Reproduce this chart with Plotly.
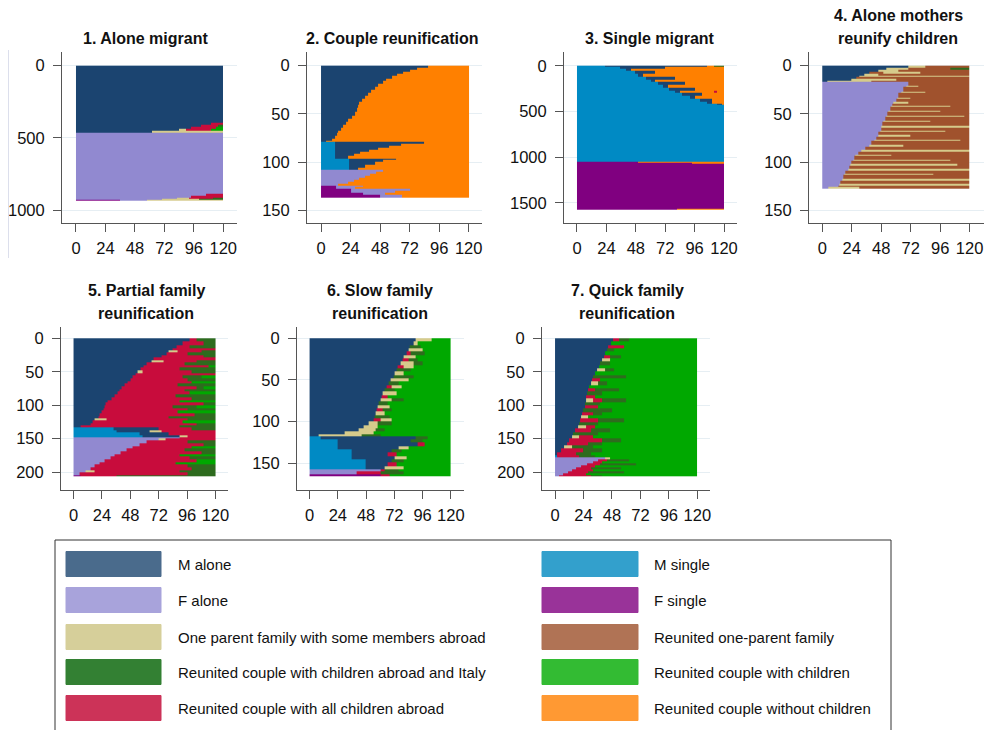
import plotly.graph_objects as go

# ---------------- states ----------------
STATE_CODES = ["MA", "FA", "OP", "RCA", "RAA", "MS", "FS", "R1", "RC", "RN"]
STATE_LABELS = [
    "M alone", "F alone", "One parent family with some members abroad",
    "Reunited couple with children abroad and Italy",
    "Reunited couple with all children abroad",
    "M single", "F single", "Reunited one-parent family",
    "Reunited couple with children", "Reunited couple without children",
]
CELL_COLORS = ["#1B4470", "#9189D0", "#D6CB8B", "#2E6B1E", "#C80C3C",
               "#008AC4", "#800080", "#A0522D", "#00A800", "#FF8000"]
LEGEND_COLORS = ["#4A6B8C", "#A8A3DB", "#D6CF9A", "#338033", "#CC3358",
                 "#33A0CC", "#993399", "#B07355", "#33BB33", "#FF9933"]

PANEL_TITLES = ["1. Alone migrant", "2. Couple reunification", "3. Single migrant",
                "4. Alone mothers<br>reunify children", "5. Partial family<br>reunification",
                "6. Slow family<br>reunification", "7. Quick family<br>reunification"]
X_TICKS = [0, 24, 48, 72, 96, 120]
Y_TICKS = [[0, 500, 1000], [0, 50, 100, 150], [0, 500, 1000, 1500], [0, 50, 100, 150],
           [0, 50, 100, 150, 200], [0, 50, 100, 150], [0, 50, 100, 150, 200]]

# ---------------- sequences: (row_from, row_to, [(state, until_month), ...]) ----------------
P1 = [
    (0, 395, [("MA", 120)]),
    (395, 410, [("MA", 110), ("RAA", 120)]),
    (410, 425, [("MA", 102), ("RAA", 116), ("RCA", 120)]),
    (425, 440, [("MA", 94), ("RAA", 114), ("RC", 120)]),
    (440, 452, [("MA", 84), ("OP", 90), ("RAA", 110), ("RC", 120)]),
    (452, 462, [("MA", 62), ("OP", 120)]),
    (462, 885, [("FA", 120)]),
    (885, 900, [("FA", 106), ("RAA", 120)]),
    (900, 912, [("FA", 94), ("RAA", 120)]),
    (912, 922, [("FA", 82), ("OP", 92), ("RAA", 112), ("RCA", 120)]),
    (922, 930, [("FA", 70), ("OP", 100), ("RCA", 120)]),
    (930, 937, [("FS", 36), ("FA", 58), ("OP", 120)]),
]

P2 = [
    (0, 2, [("MA", 87), ("RN", 120)]), (2, 4, [("MA", 78), ("RN", 120)]),
    (4, 6, [("MA", 72), ("RN", 120)]), (6, 8, [("MA", 67), ("RN", 120)]),
    (8, 10, [("MA", 62), ("RN", 120)]), (10, 13, [("MA", 58), ("RN", 120)]),
    (13, 16, [("MA", 53), ("RN", 120)]), (16, 19, [("MA", 50), ("RN", 120)]),
    (19, 22, [("MA", 46), ("RN", 120)]), (22, 25, [("MA", 44), ("RN", 120)]),
    (25, 28, [("MA", 41), ("RN", 120)]), (28, 31, [("MA", 38), ("RN", 120)]),
    (31, 34, [("MA", 36), ("RN", 120)]), (34, 37, [("MA", 33), ("RN", 120)]),
    (37, 40, [("MA", 31), ("RN", 120)]), (40, 44, [("MA", 30), ("RN", 120)]),
    (44, 48, [("MA", 29), ("RN", 120)]), (48, 52, [("MA", 28), ("RN", 120)]),
    (52, 55, [("MA", 25), ("RN", 120)]), (55, 58, [("MA", 22), ("RN", 120)]),
    (58, 61, [("MA", 20), ("RN", 120)]), (61, 64, [("MA", 18), ("RN", 120)]),
    (64, 67, [("MA", 16), ("RN", 120)]), (67, 70, [("MA", 14), ("RN", 120)]),
    (70, 73, [("MA", 13), ("RN", 120)]), (73, 76, [("MA", 11), ("RN", 120)]),
    (76, 78, [("MA", 9), ("RN", 120)]), (78, 79, [("MA", 4), ("RN", 120)]),
    (79, 81, [("MS", 11), ("MA", 84), ("RN", 120)]),
    (81, 83, [("MS", 11), ("MA", 65), ("RN", 120)]),
    (83, 85, [("MS", 11), ("MA", 55), ("RN", 120)]),
    (85, 87, [("MS", 11), ("MA", 46), ("RN", 120)]),
    (87, 89, [("MS", 11), ("MA", 39), ("RN", 120)]),
    (89, 91, [("MS", 11), ("MA", 32), ("RN", 120)]),
    (91, 93, [("MS", 11), ("MA", 27), ("RN", 120)]),
    (93, 96, [("MS", 11), ("MA", 22), ("RN", 120)]),
    (96, 98, [("MS", 23), ("MA", 61), ("RN", 120)]),
    (98, 100, [("MS", 23), ("MA", 50), ("RN", 120)]),
    (100, 103, [("MS", 23), ("MA", 44), ("RN", 120)]),
    (103, 106, [("MS", 23), ("MA", 36), ("RN", 120)]),
    (106, 108, [("MS", 23), ("MA", 30), ("RN", 120)]),
    (108, 110, [("FA", 50), ("RN", 120)]), (110, 112, [("FA", 45), ("RN", 120)]),
    (112, 114, [("FA", 40), ("RN", 120)]), (114, 116, [("FA", 36), ("RN", 120)]),
    (116, 118, [("FA", 31), ("RN", 120)]), (118, 120, [("FA", 27), ("RN", 120)]),
    (120, 122, [("FA", 22), ("RN", 120)]), (122, 124, [("FA", 14), ("RN", 120)]),
    (124, 126, [("FS", 12), ("FA", 34), ("RN", 120)]),
    (126, 128, [("FS", 12), ("FA", 28), ("RN", 120)]),
    (128, 130, [("FS", 24), ("FA", 72), ("RN", 120)]),
    (130, 132, [("FS", 24), ("FA", 60), ("RN", 120)]),
    (132, 134, [("FS", 34), ("FA", 52), ("RN", 120)]),
    (134, 137, [("FS", 48), ("FA", 66), ("RN", 120)]),
]

P3 = [
    (0, 11, [("MS", 23), ("MA", 106), ("RN", 112), ("RCA", 120)]),
    (11, 36, [("MS", 35), ("MA", 72), ("RN", 120)]),
    (36, 60, [("MS", 40), ("MA", 44), ("RN", 120)]),
    (60, 90, [("MS", 47), ("MA", 64), ("RN", 120)]),
    (90, 120, [("MS", 50), ("MA", 54), ("RN", 120)]),
    (120, 150, [("MS", 56), ("MA", 80), ("RN", 120)]),
    (150, 180, [("MS", 60), ("MA", 64), ("RN", 120)]),
    (180, 210, [("MS", 66), ("MA", 88), ("RN", 120)]),
    (210, 240, [("MS", 70), ("MA", 74), ("RN", 120)]),
    (240, 270, [("MS", 75), ("MA", 96), ("RN", 120)]),
    (270, 300, [("MS", 80), ("MA", 84), ("RN", 112), ("RAA", 114), ("RN", 120)]),
    (300, 330, [("MS", 86), ("MA", 102), ("RN", 120)]),
    (330, 360, [("MS", 92), ("MA", 96), ("RN", 120)]),
    (360, 390, [("MS", 100), ("MA", 110), ("RN", 120)]),
    (390, 410, [("MS", 106), ("MA", 110), ("RN", 120)]),
    (410, 430, [("MS", 114), ("MA", 118), ("RN", 120)]),
    (430, 1045, [("MS", 120)]),
    (1045, 1058, [("FS", 50), ("RN", 120)]),
    (1058, 1072, [("FS", 94), ("RN", 120)]),
    (1072, 1560, [("FS", 120)]),
    (1560, 1573, [("FS", 82), ("RN", 120)]),
]

P4 = [
    (0, 2, [("MA", 70), ("OP", 84), ("R1", 120)]),
    (2, 4, [("MA", 52), ("OP", 70), ("R1", 104), ("RCA", 120)]),
    (4, 6, [("MA", 46), ("OP", 62), ("R1", 120)]),
    (6, 8, [("MA", 38), ("R1", 50), ("OP", 80), ("R1", 120)]),
    (8, 10, [("MA", 34), ("OP", 46), ("R1", 120)]),
    (10, 11, [("MA", 30), ("OP", 120)]),
    (11, 13, [("MA", 28), ("R1", 120)]),
    (13, 14, [("MA", 26), ("R1", 40), ("OP", 120)]),
    (14, 16, [("MA", 24), ("OP", 60), ("R1", 120)]),
    (16, 17, [("MA", 4), ("OP", 40), ("R1", 120)]),
    (17, 21, [("FA", 70), ("R1", 120)]),
    (21, 22, [("FA", 68), ("OP", 78), ("R1", 120)]),
    (22, 27, [("FA", 66), ("R1", 120)]),
    (27, 28, [("FA", 64), ("OP", 84), ("R1", 120)]),
    (28, 33, [("FA", 62), ("R1", 120)]),
    (33, 34, [("FA", 61), ("OP", 72), ("R1", 120)]),
    (34, 37, [("FA", 60), ("R1", 120)]),
    (37, 39, [("FA", 58), ("OP", 70), ("R1", 120)]),
    (39, 42, [("FA", 57), ("R1", 120)]),
    (42, 43, [("FA", 56), ("OP", 104), ("R1", 120)]),
    (43, 47, [("FA", 55), ("R1", 120)]),
    (47, 48, [("FA", 54), ("OP", 96), ("R1", 120)]),
    (48, 52, [("FA", 53), ("R1", 120)]),
    (52, 53, [("FA", 52), ("OP", 116), ("R1", 120)]),
    (53, 57, [("FA", 51), ("R1", 120)]),
    (57, 58, [("FA", 50), ("OP", 88), ("R1", 120)]),
    (58, 62, [("FA", 49), ("R1", 120)]),
    (62, 64, [("FA", 48), ("OP", 120)]),
    (64, 67, [("FA", 48), ("R1", 120)]),
    (67, 68, [("FA", 47), ("OP", 100), ("R1", 120)]),
    (68, 72, [("FA", 46), ("R1", 120)]),
    (72, 74, [("FA", 46), ("OP", 72), ("R1", 120)]),
    (74, 77, [("FA", 44), ("R1", 120)]),
    (77, 78, [("FA", 42), ("OP", 112), ("R1", 120)]),
    (78, 82, [("FA", 40), ("R1", 120)]),
    (82, 84, [("FA", 38), ("OP", 66), ("R1", 120)]),
    (84, 87, [("FA", 35), ("R1", 120)]),
    (87, 89, [("FA", 32), ("OP", 120)]),
    (89, 92, [("FA", 29), ("R1", 120)]),
    (92, 93, [("FA", 27), ("OP", 56), ("R1", 120)]),
    (93, 97, [("FA", 26), ("R1", 120)]),
    (97, 99, [("FA", 25), ("OP", 104), ("R1", 120)]),
    (99, 102, [("FA", 24), ("R1", 120)]),
    (102, 104, [("FA", 23), ("OP", 110), ("R1", 120)]),
    (104, 107, [("FA", 22), ("R1", 120)]),
    (107, 109, [("FA", 21), ("OP", 120)]),
    (109, 112, [("FA", 19), ("R1", 120)]),
    (112, 113, [("FA", 18), ("OP", 90), ("R1", 120)]),
    (113, 117, [("FA", 17), ("R1", 120)]),
    (117, 119, [("FA", 16), ("OP", 120)]),
    (119, 122, [("FA", 15), ("R1", 120)]),
    (122, 124, [("FA", 14), ("OP", 120)]),
    (124, 126, [("FA", 13), ("R1", 120)]),
    (126, 128, [("FA", 5), ("OP", 30), ("R1", 120)]),
]

P5 = [
    (0, 5, [("MA", 98), ("RAA", 104), ("RCA", 120)]),
    (5, 10, [("MA", 92), ("RAA", 110), ("RCA", 120)]),
    (10, 15, [("MA", 87), ("RAA", 98), ("RCA", 120)]),
    (15, 18, [("MA", 84), ("RAA", 120)]),
    (18, 21, [("MA", 80), ("OP", 88), ("RAA", 108), ("RCA", 120)]),
    (21, 25, [("MA", 79), ("RAA", 96), ("RCA", 120)]),
    (25, 29, [("MA", 74), ("RAA", 110), ("RCA", 120)]),
    (29, 33, [("MA", 68), ("RAA", 120)]),
    (33, 36, [("MA", 66), ("OP", 76), ("RAA", 104), ("RCA", 120)]),
    (36, 40, [("MA", 62), ("RAA", 94), ("RCA", 120)]),
    (40, 44, [("MA", 59), ("RAA", 114), ("RC", 120)]),
    (44, 48, [("MA", 57), ("RAA", 90), ("RCA", 120)]),
    (48, 52, [("MA", 54), ("OP", 58), ("RAA", 100), ("RCA", 120)]),
    (52, 56, [("MA", 52), ("RAA", 120)]),
    (56, 60, [("MA", 50), ("RAA", 92), ("RCA", 108), ("RC", 120)]),
    (60, 64, [("MA", 48), ("RAA", 96), ("RCA", 120)]),
    (64, 68, [("MA", 46), ("RAA", 100), ("RC", 120)]),
    (68, 72, [("MA", 43), ("RAA", 88), ("RCA", 120)]),
    (72, 76, [("MA", 41), ("RAA", 104), ("RCA", 110), ("RC", 120)]),
    (76, 80, [("MA", 39), ("RAA", 94), ("RCA", 120)]),
    (80, 84, [("MA", 37), ("RAA", 98), ("RC", 120)]),
    (84, 88, [("MA", 35), ("RAA", 86), ("RCA", 120)]),
    (88, 92, [("MA", 32), ("RAA", 100), ("RCA", 120)]),
    (92, 96, [("MA", 29), ("RAA", 90), ("RC", 120)]),
    (96, 100, [("MA", 27), ("RAA", 110), ("RCA", 120)]),
    (100, 104, [("MA", 26), ("RAA", 84), ("RCA", 104), ("RC", 120)]),
    (104, 108, [("MA", 25), ("RAA", 96), ("RCA", 120)]),
    (108, 112, [("MA", 24), ("RAA", 88), ("RC", 120)]),
    (112, 116, [("MA", 22), ("RAA", 102), ("RCA", 120)]),
    (116, 120, [("MA", 21), ("RAA", 80), ("RCA", 120)]),
    (120, 123, [("MA", 18), ("OP", 28), ("RAA", 96), ("RCA", 120)]),
    (123, 127, [("MA", 16), ("RAA", 92), ("RC", 120)]),
    (127, 130, [("MA", 14), ("RAA", 104), ("RCA", 120)]),
    (130, 133, [("MA", 6), ("RAA", 90), ("RCA", 120)]),
    (133, 137, [("MS", 34), ("MA", 72), ("RAA", 100), ("RCA", 120)]),
    (137, 141, [("MS", 36), ("MA", 64), ("OP", 74), ("RAA", 120)]),
    (141, 145, [("MS", 56), ("MA", 80), ("RAA", 120)]),
    (145, 148, [("MS", 58), ("MA", 90), ("OP", 96), ("RAA", 120)]),
    (148, 150, [("FA", 90), ("RAA", 120)]),
    (150, 153, [("FA", 72), ("OP", 78), ("RAA", 120)]),
    (153, 157, [("FA", 62), ("RAA", 96), ("RCA", 120)]),
    (157, 161, [("FA", 56), ("RAA", 110), ("RCA", 120)]),
    (161, 165, [("FA", 50), ("RAA", 100), ("RC", 120)]),
    (165, 169, [("FA", 45), ("RAA", 94), ("RCA", 120)]),
    (169, 173, [("FA", 40), ("RAA", 108), ("RCA", 120)]),
    (173, 177, [("FA", 35), ("RAA", 90), ("RC", 120)]),
    (177, 181, [("FA", 31), ("RAA", 98), ("RCA", 120)]),
    (181, 185, [("FA", 26), ("RAA", 104), ("RC", 120)]),
    (185, 189, [("FA", 22), ("RAA", 86), ("RC", 120)]),
    (189, 193, [("FA", 18), ("RAA", 96), ("RCA", 120)]),
    (193, 197, [("FA", 14), ("RAA", 100), ("RCA", 120)]),
    (197, 201, [("FA", 10), ("OP", 18), ("RAA", 90), ("RCA", 120)]),
    (201, 205, [("FA", 5), ("RAA", 96), ("RCA", 120)]),
    (205, 207, [("FS", 6), ("RAA", 36), ("RCA", 120)]),
]

P6 = [
    (0, 4, [("MA", 90), ("OP", 104), ("RC", 120)]),
    (4, 8, [("MA", 88), ("OP", 92), ("RC", 120)]),
    (8, 12, [("MA", 85), ("RCA", 94), ("RC", 120)]),
    (12, 16, [("MA", 84), ("OP", 96), ("RC", 120)]),
    (16, 20, [("MA", 82), ("RAA", 86), ("RCA", 98), ("RC", 120)]),
    (20, 24, [("MA", 80), ("OP", 90), ("RC", 120)]),
    (24, 28, [("MA", 79), ("RAA", 84), ("RCA", 92), ("RC", 120)]),
    (28, 32, [("MA", 77), ("OP", 88), ("RCA", 96), ("RC", 120)]),
    (32, 36, [("MA", 75), ("RAA", 80), ("OP", 88), ("RC", 120)]),
    (36, 40, [("MA", 74), ("RCA", 86), ("RC", 120)]),
    (40, 44, [("MA", 72), ("OP", 80), ("RC", 120)]),
    (44, 48, [("MA", 71), ("RCA", 88), ("RC", 120)]),
    (48, 52, [("MA", 69), ("OP", 84), ("RC", 120)]),
    (52, 56, [("MA", 67), ("RCA", 76), ("RC", 120)]),
    (56, 60, [("MA", 65), ("RAA", 70), ("OP", 78), ("RC", 120)]),
    (60, 64, [("MA", 64), ("RCA", 72), ("RC", 120)]),
    (64, 68, [("MA", 62), ("OP", 74), ("RC", 120)]),
    (68, 72, [("MA", 61), ("RAA", 66), ("RC", 120)]),
    (72, 76, [("MA", 60), ("OP", 70), ("RCA", 80), ("RC", 120)]),
    (76, 80, [("MA", 59), ("RCA", 66), ("RC", 120)]),
    (80, 84, [("MA", 58), ("OP", 68), ("RC", 120)]),
    (84, 88, [("MA", 57), ("RAA", 62), ("RCA", 70), ("RC", 120)]),
    (88, 92, [("MA", 56), ("OP", 64), ("RC", 120)]),
    (92, 96, [("MA", 55), ("RCA", 68), ("RC", 120)]),
    (96, 100, [("MA", 54), ("RAA", 60), ("OP", 70), ("RC", 120)]),
    (100, 104, [("MA", 50), ("OP", 58), ("RCA", 70), ("RC", 120)]),
    (104, 108, [("MA", 46), ("OP", 58), ("RC", 120)]),
    (108, 112, [("MA", 42), ("OP", 56), ("RCA", 64), ("RC", 120)]),
    (112, 115, [("MA", 30), ("OP", 54), ("RC", 120)]),
    (115, 117, [("MA", 8), ("OP", 44), ("RCA", 60), ("RC", 120)]),
    (117, 121, [("MS", 9), ("MA", 90), ("RCA", 100), ("RC", 120)]),
    (121, 125, [("MS", 24), ("MA", 86), ("RCA", 96), ("RC", 120)]),
    (125, 129, [("MS", 24), ("MA", 92), ("RAA", 98), ("RC", 120)]),
    (129, 133, [("MS", 24), ("MA", 76), ("OP", 84), ("RC", 120)]),
    (133, 137, [("MS", 36), ("MA", 70), ("RCA", 78), ("RC", 120)]),
    (137, 141, [("MS", 36), ("MA", 66), ("RAA", 74), ("RC", 120)]),
    (141, 145, [("MS", 36), ("MA", 72), ("OP", 82), ("RC", 120)]),
    (145, 149, [("MS", 48), ("MA", 70), ("RCA", 80), ("RC", 120)]),
    (149, 153, [("MS", 48), ("MA", 66), ("RAA", 74), ("RC", 120)]),
    (153, 157, [("MS", 48), ("MA", 64), ("OP", 80), ("RC", 120)]),
    (157, 160, [("FA", 60), ("RAA", 64), ("RCA", 76), ("RC", 120)]),
    (160, 163, [("FA", 40), ("RAA", 60), ("RCA", 80), ("RC", 120)]),
    (163, 166, [("FS", 60), ("RAA", 68), ("RC", 120)]),
]

P7 = [
    (0, 5, [("MA", 49), ("RAA", 54), ("RCA", 62), ("RC", 120)]),
    (5, 10, [("MA", 47), ("RC", 120)]),
    (10, 15, [("MA", 45), ("RAA", 58), ("RC", 120)]),
    (15, 20, [("MA", 44), ("RCA", 50), ("RC", 120)]),
    (20, 25, [("MA", 42), ("RC", 120)]),
    (25, 30, [("MA", 41), ("RAA", 46), ("RCA", 56), ("RC", 120)]),
    (30, 35, [("MA", 40), ("OP", 46), ("RC", 120)]),
    (35, 40, [("MA", 38), ("RCA", 46), ("RC", 120)]),
    (40, 45, [("MA", 37), ("RC", 120)]),
    (45, 50, [("MA", 35), ("OP", 42), ("RCA", 50), ("RC", 120)]),
    (50, 55, [("MA", 34), ("RC", 120)]),
    (55, 60, [("MA", 32), ("RCA", 60), ("RC", 120)]),
    (60, 65, [("MA", 31), ("RAA", 38), ("RC", 120)]),
    (65, 70, [("MA", 30), ("OP", 36), ("RCA", 44), ("RC", 120)]),
    (70, 75, [("MA", 29), ("RC", 120)]),
    (75, 80, [("MA", 28), ("RAA", 34), ("RCA", 54), ("RC", 120)]),
    (80, 85, [("MA", 27), ("RCA", 40), ("RC", 120)]),
    (85, 90, [("MA", 26), ("RAA", 34), ("RC", 120)]),
    (90, 95, [("MA", 26), ("OP", 32), ("RAA", 40), ("RCA", 60), ("RC", 120)]),
    (95, 100, [("MA", 25), ("RCA", 38), ("RC", 120)]),
    (100, 105, [("MA", 25), ("RAA", 36), ("RC", 120)]),
    (105, 110, [("MA", 24), ("RCA", 48), ("RC", 120)]),
    (110, 115, [("MA", 23), ("RAA", 32), ("RCA", 40), ("RC", 120)]),
    (115, 120, [("MA", 22), ("OP", 28), ("RC", 120)]),
    (120, 125, [("MA", 21), ("RAA", 36), ("RCA", 58), ("RC", 120)]),
    (125, 130, [("MA", 20), ("RCA", 36), ("RC", 120)]),
    (130, 135, [("MA", 19), ("OP", 26), ("RAA", 34), ("RC", 120)]),
    (135, 140, [("MA", 17), ("RAA", 30), ("RCA", 46), ("RC", 120)]),
    (140, 145, [("MA", 15), ("RCA", 36), ("RC", 120)]),
    (145, 150, [("MA", 14), ("OP", 20), ("RAA", 32), ("RC", 120)]),
    (150, 155, [("MA", 12), ("RAA", 40), ("RCA", 56), ("RC", 120)]),
    (155, 160, [("MA", 10), ("RAA", 28), ("RCA", 40), ("RC", 120)]),
    (160, 165, [("MA", 8), ("OP", 14), ("RCA", 32), ("RC", 120)]),
    (165, 170, [("MA", 5), ("RAA", 24), ("RCA", 40), ("RC", 120)]),
    (170, 175, [("MA", 2), ("RAA", 18), ("RCA", 30), ("RC", 120)]),
    (175, 178, [("MS", 2), ("RAA", 20), ("RCA", 34), ("RC", 120)]),
    (178, 181, [("FA", 42), ("OP", 46), ("RC", 120)]),
    (181, 184, [("FA", 36), ("RAA", 44), ("RCA", 62), ("RC", 120)]),
    (184, 187, [("FA", 32), ("RAA", 40), ("RC", 120)]),
    (187, 190, [("FA", 27), ("RAA", 38), ("RCA", 68), ("RC", 120)]),
    (190, 193, [("FA", 22), ("RAA", 34), ("RC", 120)]),
    (193, 196, [("FA", 18), ("RAA", 30), ("RCA", 56), ("RC", 120)]),
    (196, 199, [("FA", 14), ("RAA", 32), ("RC", 120)]),
    (199, 202, [("FA", 11), ("RAA", 28), ("RCA", 58), ("RC", 120)]),
    (202, 205, [("FA", 7), ("RAA", 26), ("RC", 120)]),
    (205, 207, [("FA", 3), ("RAA", 30), ("RCA", 40), ("RC", 120)]),
]

PANELS = [P1, P2, P3, P4, P5, P6, P7]

# ---------------- geometry (pixels on the 994x730 page) ----------------
W, H = 994, 730
OFF = 8                     # default page margin of the html body
FW, FH = W - OFF, H - OFF   # figure size so that the page fits the window


def X(p):
    return (p - OFF) / FW


def Y(p):
    return 1 - (p - OFF) / FH


# (axis left, axis right, axis top, axis bottom, x range, y range [bottom, top])
GEOM = [
    (62, 237, 52, 223, [-11.4, 131.2], [1090, -95]),
    (307, 482, 52, 223, [-11.4, 130.8], [163.2, -14.2]),
    (564, 737, 52, 223, [-10.6, 130.6], [1719, -150]),
    (809, 984, 52, 223, [-10.8, 131.7], [163.2, -14.2]),
    (61, 228, 327, 490, [-10.6, 130.6], [226.9, -16.9]),
    (297, 464, 327, 490, [-10.7, 131.2], [182, -13.5]),
    (542, 710, 327, 490, [-11.0, 130.7], [226.9, -16.9]),
]
TITLE_POS = [(145, 38), (392, 38), (650, 38), (898, 15.7), (146, 290.7), (380, 290.7), (627, 290.7)]
TITLE_LINE_GAP = 22.6

n = len(STATE_CODES)
colorscale = []
for i, c in enumerate(CELL_COLORS):
    colorscale.append([i / n, c])
    colorscale.append([(i + 1) / n, c])

fig = go.Figure()
FONT = "Liberation Sans, Arial, sans-serif"
layout = dict(width=FW, height=FH, margin=dict(l=0, r=0, t=0, b=0),
              paper_bgcolor="white", plot_bgcolor="white", showlegend=False,
              font=dict(family=FONT, color="#111111"))

for k, bands in enumerate(PANELS):
    edges = [bands[0][0]] + [b[1] for b in bands]
    z = []
    for r0, r1, seq in bands:
        row, start = [], 0
        for st, end in seq:
            row += [STATE_CODES.index(st)] * (end - start)
            start = end
        z.append(row)
    sfx = "" if k == 0 else str(k + 1)
    fig.add_trace(go.Heatmap(
        x=list(range(121)), y=edges, z=z, zmin=-0.5, zmax=n - 0.5,
        colorscale=colorscale, showscale=False, hoverinfo="skip",
        xaxis="x" + sfx, yaxis="y" + sfx))
    xl, xr, yt, yb, xrng, yrng = GEOM[k]
    layout["xaxis" + sfx] = dict(
        domain=[X(xl), X(xr)], range=xrng, anchor="y" + sfx,
        tickvals=X_TICKS, ticks="outside", ticklen=8, tickcolor="#555555",
        showline=True, linecolor="#555555", linewidth=1, showgrid=False,
        zeroline=False, tickfont=dict(size=16.5, family=FONT, color="#111111"),
        ticklabelstandoff=2, fixedrange=True)
    layout["yaxis" + sfx] = dict(
        domain=[Y(yb), Y(yt)], range=yrng, anchor="x" + sfx,
        tickvals=Y_TICKS[k], ticks="outside", ticklen=8, tickcolor="#555555",
        showline=True, linecolor="#555555", linewidth=1, showgrid=True,
        gridcolor="#E6EEF3", gridwidth=1, zeroline=False,
        tickfont=dict(size=16.5, family=FONT, color="#111111"),
        ticklabelstandoff=5, fixedrange=True)

annotations = []
for k, t in enumerate(PANEL_TITLES):
    x, y = TITLE_POS[k]
    for j, line in enumerate(t.split("<br>")):
        annotations.append(dict(text="<b>" + line + "</b>", x=X(x), y=Y(y + j * TITLE_LINE_GAP),
                                xref="paper", yref="paper", xanchor="center", yanchor="middle",
                                showarrow=False, font=dict(size=16, family=FONT, color="#111111")))

shapes = [
    dict(type="line", xref="paper", yref="paper", x0=X(8.5), x1=X(8.5), y0=Y(258), y1=Y(50),
         line=dict(color="#DCDFEC", width=1)),
    dict(type="rect", xref="paper", yref="paper", x0=X(55), x1=X(891),
         y0=Y(740), y1=Y(540), line=dict(color="#333333", width=1),
         fillcolor="rgba(0,0,0,0)"),
]
ROW_Y = [564, 600, 637, 672, 708]
for i, lab in enumerate(STATE_LABELS):
    col, r = divmod(i, 5)
    sx0, sx1, tx = (66, 161, 176) if col == 0 else (542, 638, 652)
    cy = ROW_Y[r]
    shapes.append(dict(type="rect", xref="paper", yref="paper", x0=X(sx0), x1=X(sx1),
                       y0=Y(cy + 12.5), y1=Y(cy - 12.5),
                       line=dict(color=LEGEND_COLORS[i], width=1), fillcolor=LEGEND_COLORS[i]))
    annotations.append(dict(text=lab, x=X(tx), y=Y(cy), xref="paper", yref="paper",
                            xanchor="left", yanchor="middle", showarrow=False,
                            font=dict(size=15, family=FONT, color="#111111")))

layout["annotations"] = annotations
layout["shapes"] = shapes
fig.update_layout(**layout)
fig.write_html("out.html")
